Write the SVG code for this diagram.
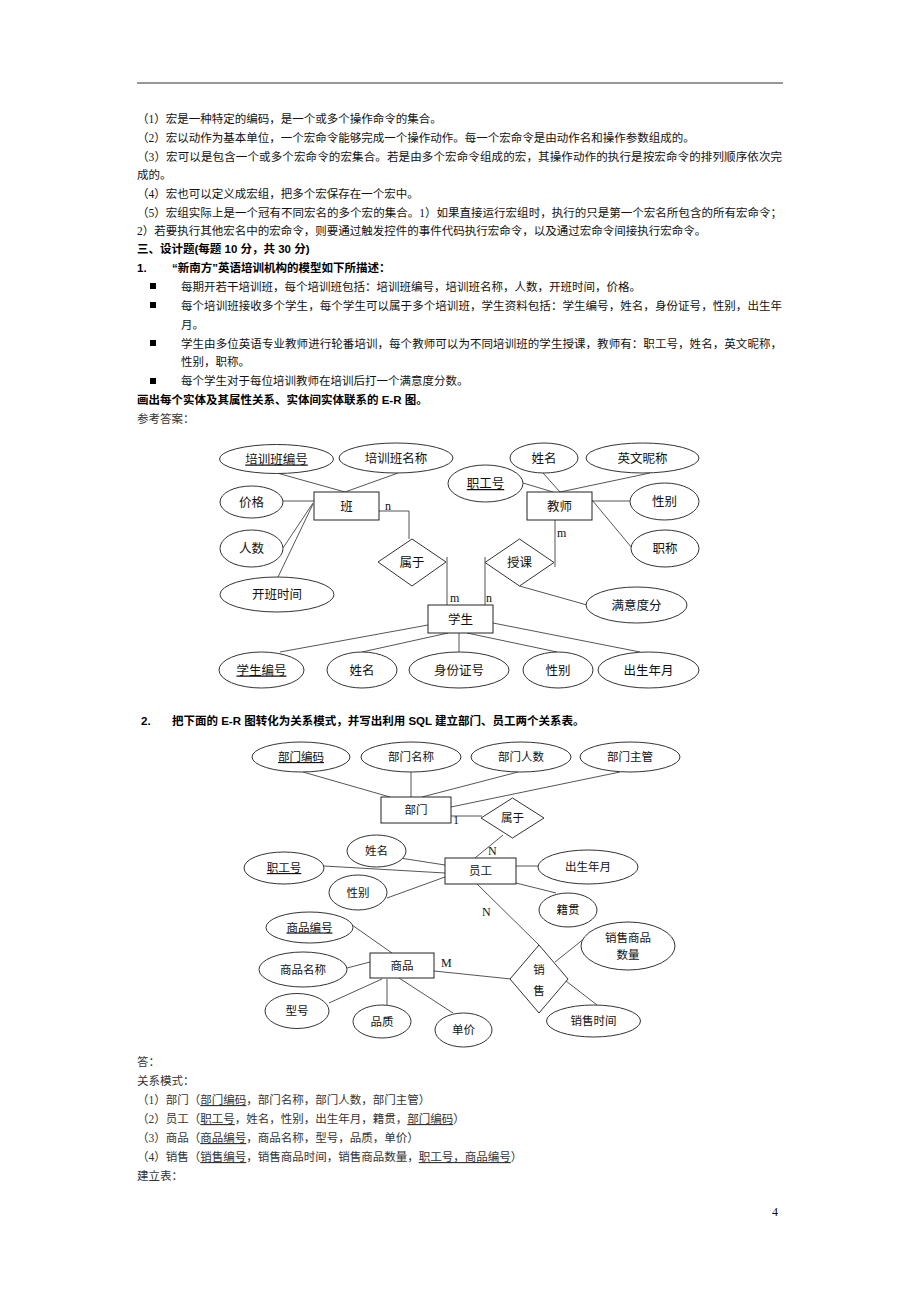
<svg xmlns="http://www.w3.org/2000/svg" width="920" height="1302" viewBox="0 0 920 1302">
<style>
.t{font-family:"Liberation Serif","Noto Sans CJK SC",serif;font-size:11.5px;fill:#111}
.b{font-family:"Liberation Sans","Noto Sans CJK SC",sans-serif;font-size:11.5px;font-weight:bold;fill:#000}
.g{font-family:"Liberation Serif","Noto Sans CJK SC",serif;font-size:11.5px;fill:#333}
.n1{font-family:"Noto Sans CJK SC",sans-serif;font-size:12.5px;fill:#111;text-anchor:middle}
.n2{font-family:"Noto Sans CJK SC",sans-serif;font-size:11.5px;fill:#111;text-anchor:middle}
.lb{font-family:"Liberation Serif",serif;font-size:12px;fill:#111}
.u{text-decoration:underline}
.e{fill:#fff;stroke:#333;stroke-width:1}
.r{fill:#fff;stroke:#222;stroke-width:1}
.c line,.c polyline{stroke:#555;stroke-width:1;fill:none}
</style>
<rect x="0" y="0" width="920" height="1302" fill="#fff"/>
<line x1="137" y1="83" x2="783" y2="83" stroke="#333" stroke-width="1.2"/>

<g id="text-top">
<text class="t" x="137" y="123">（1）宏是一种特定的编码，是一个或多个操作命令的集合。</text>
<text class="t" x="137" y="142">（2）宏以动作为基本单位，一个宏命令能够完成一个操作动作。每一个宏命令是由动作名和操作参数组成的。</text>
<text class="t" x="137" y="161" textLength="645" lengthAdjust="spacing">（3）宏可以是包含一个或多个宏命令的宏集合。若是由多个宏命令组成的宏，其操作动作的执行是按宏命令的排列顺序依次完</text>
<text class="t" x="137" y="179">成的。</text>
<text class="t" x="137" y="198">（4）宏也可以定义成宏组，把多个宏保存在一个宏中。</text>
<text class="t" x="137" y="217" textLength="645" lengthAdjust="spacing">（5）宏组实际上是一个冠有不同宏名的多个宏的集合。1）如果直接运行宏组时，执行的只是第一个宏名所包含的所有宏命令；</text>
<text class="t" x="137" y="235">2）若要执行其他宏名中的宏命令，则要通过触发控件的事件代码执行宏命令，以及通过宏命令间接执行宏命令。</text>
<text class="b" x="137" y="253">三、设计题(每题 10 分，共 30 分)</text>
<text class="b" x="137" y="272">1.</text>
<text class="b" x="172" y="272">“新南方”英语培训机构的模型如下所描述：</text>
<rect x="150" y="283" width="6" height="6" fill="#000"/>
<text class="t" x="181" y="291">每期开若干培训班，每个培训班包括：培训班编号，培训班名称，人数，开班时间，价格。</text>
<rect x="150" y="302" width="6" height="6" fill="#000"/>
<text class="t" x="181" y="310" textLength="601" lengthAdjust="spacing">每个培训班接收多个学生，每个学生可以属于多个培训班，学生资料包括：学生编号，姓名，身份证号，性别，出生年</text>
<text class="t" x="181" y="329">月。</text>
<rect x="150" y="340" width="6" height="6" fill="#000"/>
<text class="t" x="181" y="348" textLength="601" lengthAdjust="spacing">学生由多位英语专业教师进行轮番培训，每个教师可以为不同培训班的学生授课，教师有：职工号，姓名，英文昵称，</text>
<text class="t" x="181" y="366">性别，职称。</text>
<rect x="150" y="378" width="6" height="6" fill="#000"/>
<text class="t" x="181" y="385">每个学生对于每位培训教师在培训后打一个满意度分数。</text>
<text class="b" x="137" y="404">画出每个实体及其属性关系、实体间实体联系的 E-R 图。</text>
<text class="g" x="137" y="423">参考答案：</text>
</g>

<g id="connectors-1" class="c">
<line x1="277" y1="473" x2="345" y2="492"/>
<line x1="398" y1="473" x2="345" y2="492"/>
<line x1="283" y1="501" x2="314" y2="501"/>
<line x1="283" y1="548" x2="313" y2="503"/>
<line x1="278" y1="577" x2="313" y2="504"/>
<polyline points="379,511 409,511 409,539"/>
<line x1="447" y1="557" x2="447" y2="605"/>
<line x1="485" y1="557" x2="485" y2="605"/>
<line x1="555" y1="520" x2="555" y2="567"/>
<line x1="519.5" y1="586" x2="587" y2="605"/>
<line x1="543" y1="473" x2="560" y2="492"/>
<line x1="650" y1="473" x2="560" y2="492"/>
<line x1="523" y1="483" x2="553" y2="492"/>
<line x1="630" y1="501" x2="592" y2="501"/>
<line x1="632" y1="548" x2="592" y2="500"/>
<line x1="280" y1="652" x2="428" y2="625"/>
<line x1="362" y1="652" x2="448" y2="633"/>
<line x1="459" y1="633" x2="459" y2="652"/>
<line x1="557" y1="652" x2="467" y2="633"/>
<line x1="640" y1="652" x2="493" y2="623"/>
</g>

<g id="card-1">
<text class="lb" x="385" y="510">n</text>
<text class="lb" x="450" y="602">m</text>
<text class="lb" x="486" y="602">n</text>
<text class="lb" x="557" y="537">m</text>
</g>

<g id="n-pxbbh"><ellipse class="e" cx="276.5" cy="459" rx="57" ry="14.5"/><text class="n1 u" x="276.5" y="463.5">培训班编号</text></g>
<g id="n-pxbmc"><ellipse class="e" cx="396" cy="458" rx="57" ry="15"/><text class="n1" x="396" y="462.5">培训班名称</text></g>
<g id="n-jiage"><ellipse class="e" cx="251.5" cy="502" rx="31.5" ry="16"/><text class="n1" x="251.5" y="506.5">价格</text></g>
<g id="n-renshu"><ellipse class="e" cx="251.5" cy="548.5" rx="31.5" ry="18.5"/><text class="n1" x="251.5" y="553">人数</text></g>
<g id="n-kbsj"><ellipse class="e" cx="277" cy="594.5" rx="57" ry="17.5"/><text class="n1" x="277" y="599">开班时间</text></g>
<g id="n-ban"><rect class="r" x="314" y="492" width="65" height="28"/><text class="n1" x="346.5" y="510.5">班</text></g>
<g id="n-shuyu1"><polygon class="e" points="412,539 446,562 412,586 378,562"/><text class="n1" x="412" y="566.5">属于</text></g>
<g id="n-xuesheng"><rect class="r" x="428" y="605" width="65" height="28"/><text class="n1" x="460.5" y="623.5">学生</text></g>
<g id="n-shouke"><polygon class="e" points="519.5,539 554,562.5 519.5,586 485,562.5"/><text class="n1" x="519.5" y="567">授课</text></g>
<g id="n-jiaoshi"><rect class="r" x="527" y="492" width="65" height="28"/><text class="n1" x="559.5" y="510.5">教师</text></g>
<g id="n-xingming1"><ellipse class="e" cx="544" cy="458" rx="34" ry="15"/><text class="n1" x="544" y="462.5">姓名</text></g>
<g id="n-ywnc"><ellipse class="e" cx="642.5" cy="458" rx="56.5" ry="15"/><text class="n1" x="642.5" y="462.5">英文昵称</text></g>
<g id="n-zgh1"><ellipse class="e" cx="485.5" cy="483.5" rx="37.5" ry="18.5"/><text class="n1 u" x="485.5" y="488">职工号</text></g>
<g id="n-xingbie1"><ellipse class="e" cx="664.5" cy="501.5" rx="34.5" ry="18.5"/><text class="n1" x="664.5" y="506">性别</text></g>
<g id="n-zhicheng"><ellipse class="e" cx="665" cy="548.5" rx="34" ry="18.5"/><text class="n1" x="665" y="553">职称</text></g>
<g id="n-myd"><ellipse class="e" cx="636.5" cy="605" rx="50.5" ry="18"/><text class="n1" x="636.5" y="609.5">满意度分</text></g>
<g id="n-xsbh"><ellipse class="e" cx="261.5" cy="670" rx="42.5" ry="18"/><text class="n1 u" x="261.5" y="674.5">学生编号</text></g>
<g id="n-xingming2"><ellipse class="e" cx="362" cy="670" rx="35" ry="18"/><text class="n1" x="362" y="674.5">姓名</text></g>
<g id="n-sfzh"><ellipse class="e" cx="459" cy="670" rx="50" ry="18"/><text class="n1" x="459" y="674.5">身份证号</text></g>
<g id="n-xingbie2"><ellipse class="e" cx="558" cy="670" rx="35" ry="18"/><text class="n1" x="558" y="674.5">性别</text></g>
<g id="n-csny1"><ellipse class="e" cx="648.5" cy="670" rx="50.5" ry="18"/><text class="n1" x="648.5" y="674.5">出生年月</text></g>

<text class="b" x="141" y="725">2.</text>
<text class="b" x="172" y="725">把下面的 E-R 图转化为关系模式，并写出利用 SQL 建立部门、员工两个关系表。</text>

<g id="connectors-2" class="c">
<line x1="303" y1="772" x2="390" y2="797"/>
<line x1="411" y1="772" x2="411" y2="797"/>
<line x1="518" y1="772" x2="422" y2="797"/>
<line x1="620" y1="772" x2="451" y2="807"/>
<line x1="451" y1="816" x2="482" y2="816"/>
<line x1="503" y1="835" x2="475" y2="858"/>
<line x1="400" y1="858" x2="445" y2="865"/>
<line x1="324" y1="866" x2="445" y2="873"/>
<line x1="387" y1="898" x2="445" y2="877"/>
<line x1="538" y1="866" x2="516" y2="866"/>
<line x1="556" y1="893" x2="516" y2="883"/>
<line x1="477" y1="884" x2="539" y2="945"/>
<line x1="555" y1="962" x2="585" y2="938"/>
<line x1="566" y1="981" x2="597" y2="1005"/>
<line x1="434" y1="971" x2="511" y2="979"/>
<line x1="352" y1="925" x2="392" y2="953"/>
<line x1="347" y1="968" x2="370" y2="962"/>
<line x1="329" y1="1003" x2="382" y2="979"/>
<line x1="387" y1="979" x2="387" y2="1005"/>
<line x1="453" y1="1013" x2="399" y2="978"/>
</g>

<g id="card-2">
<text class="lb" x="453" y="824" font-size="10">1</text>
<text class="lb" x="488" y="855">N</text>
<text class="lb" x="482" y="916">N</text>
<text class="lb" x="441" y="967">M</text>
</g>

<g id="n-bmbm"><ellipse class="e" cx="301" cy="757" rx="49" ry="15"/><text class="n2 u" x="301" y="761">部门编码</text></g>
<g id="n-bmmc"><ellipse class="e" cx="411" cy="757" rx="50" ry="15"/><text class="n2" x="411" y="761">部门名称</text></g>
<g id="n-bmrs"><ellipse class="e" cx="521" cy="757" rx="50" ry="15"/><text class="n2" x="521" y="761">部门人数</text></g>
<g id="n-bmzg"><ellipse class="e" cx="630" cy="757" rx="50" ry="15"/><text class="n2" x="630" y="761">部门主管</text></g>
<g id="n-bumen"><rect class="r" x="381" y="797" width="70" height="26"/><text class="n2" x="416" y="814">部门</text></g>
<g id="n-shuyu2"><polygon class="e" points="512.5,798 544,818 512.5,838 481,818"/><text class="n2" x="512.5" y="822">属于</text></g>
<g id="n-yuangong"><rect class="r" x="445" y="858" width="71" height="26"/><text class="n2" x="480.5" y="875">员工</text></g>
<g id="n-xingming3"><ellipse class="e" cx="376.5" cy="851" rx="29.5" ry="16"/><text class="n2" x="376.5" y="855">姓名</text></g>
<g id="n-zgh2"><ellipse class="e" cx="284" cy="868" rx="40" ry="16"/><text class="n2 u" x="284" y="872">职工号</text></g>
<g id="n-xingbie3"><ellipse class="e" cx="358" cy="892.5" rx="29" ry="17.5"/><text class="n2" x="358" y="896.5">性别</text></g>
<g id="n-csny2"><ellipse class="e" cx="588" cy="867" rx="50" ry="17"/><text class="n2" x="588" y="871">出生年月</text></g>
<g id="n-jiguan"><ellipse class="e" cx="568" cy="910" rx="29" ry="17"/><text class="n2" x="568" y="914">籍贯</text></g>
<g id="n-xiaoshou"><polygon class="e" points="539,945 568,979 539,1013 510,979"/><text class="n2" x="539" y="974">销</text><text class="n2" x="539" y="995">售</text></g>
<g id="n-xssl"><ellipse class="e" cx="628" cy="946" rx="47" ry="24"/><text class="n2" x="628" y="942">销售商品</text><text class="n2" x="628" y="959">数量</text></g>
<g id="n-xssj"><ellipse class="e" cx="593.5" cy="1021" rx="47" ry="16"/><text class="n2" x="593.5" y="1025">销售时间</text></g>
<g id="n-shangpin"><rect class="r" x="370" y="953" width="64" height="25"/><text class="n2" x="402" y="969.5">商品</text></g>
<g id="n-spbh"><ellipse class="e" cx="309.5" cy="927.5" rx="43.5" ry="15.5"/><text class="n2 u" x="309.5" y="931.5">商品编号</text></g>
<g id="n-spmc"><ellipse class="e" cx="303" cy="969.5" rx="44" ry="17.5"/><text class="n2" x="303" y="973.5">商品名称</text></g>
<g id="n-xinghao"><ellipse class="e" cx="297" cy="1011" rx="32" ry="17.5"/><text class="n2" x="297" y="1015">型号</text></g>
<g id="n-pinzhi"><ellipse class="e" cx="382" cy="1021.5" rx="29" ry="16.5"/><text class="n2" x="382" y="1025.5">品质</text></g>
<g id="n-danjia"><ellipse class="e" cx="463.5" cy="1030" rx="28.5" ry="17"/><text class="n2" x="463.5" y="1034">单价</text></g>

<g id="text-bottom">
<text class="g" x="137" y="1066">答：</text>
<text class="g" x="137" y="1085">关系模式：</text>
<text class="g" x="137" y="1104">（1）部门（<tspan class="u">部门编码</tspan>，部门名称，部门人数，部门主管）</text>
<text class="g" x="137" y="1123">（2）员工（<tspan class="u">职工号</tspan>，姓名，性别，出生年月，籍贯，<tspan class="u">部门编码</tspan>）</text>
<text class="g" x="137" y="1142">（3）商品（<tspan class="u">商品编号</tspan>，商品名称，型号，品质，单价）</text>
<text class="g" x="137" y="1161">（4）销售（<tspan class="u">销售编号</tspan>，销售商品时间，销售商品数量，<tspan class="u">职工号，商品编号</tspan>）</text>
<text class="g" x="137" y="1180">建立表：</text>
<text class="lb" x="772" y="1216" font-size="13">4</text>
</g>
</svg>
